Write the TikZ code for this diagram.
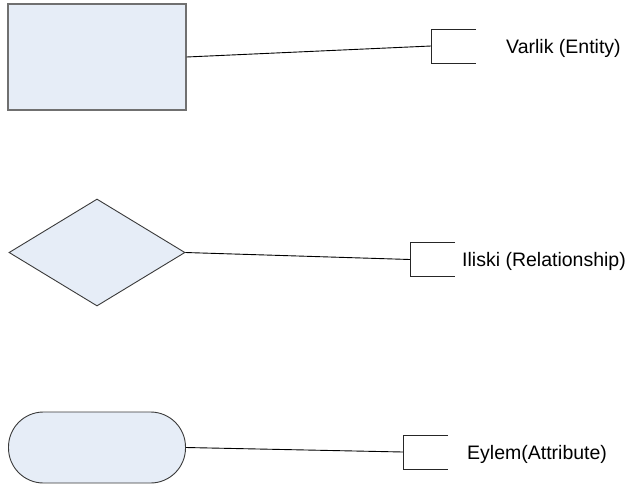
\documentclass[tikz,border=0pt]{standalone}
\usepackage{fontspec}
\setmainfont{Liberation Sans}
\usetikzlibrary{shapes.geometric}
\definecolor{shapefill}{HTML}{E6EDF7}
\definecolor{rectborder}{HTML}{707070}
\definecolor{shapeborder}{HTML}{3A3A3A}
\tikzset{
  entitybox/.style={draw=rectborder, fill=shapefill, line width=1.1pt, minimum width=178pt, minimum height=106pt, inner sep=0pt},
  relbox/.style={diamond, draw=shapeborder, fill=shapefill, line width=0.9pt, minimum width=176pt, minimum height=107pt, inner sep=0pt},
  attrbox/.style={draw=shapeborder, fill=shapefill, line width=0.9pt, rounded corners=35pt, minimum width=177pt, minimum height=71pt, inner sep=0pt},
  conn/.style={draw=black, line width=0.9pt},
  brk/.style={draw=black!85, line width=1pt},
  lbl/.style={anchor=base west, inner sep=0pt, font=\fontsize{19.5}{23}\selectfont}
}
\begin{document}
\begin{tikzpicture}[x=1pt, y=-1pt]
\useasboundingbox (0,0) rectangle (631,488);
% shapes
\node[entitybox] (ent) at (97,57) {};
\node[relbox] (rel) at (97,252.5) {};
\node[attrbox] (att) at (97,447.5) {};
% bracket tips
\coordinate (b1) at (431,46);
\coordinate (b2) at (410,259.5);
\coordinate (b3) at (403,452);
% brackets
\draw[brk] ([shift={(45,-17)}]b1) -- ([shift={(0,-17)}]b1) -- ([shift={(0,17)}]b1) -- ([shift={(45,17)}]b1);
\draw[brk] ([shift={(45,-17)}]b2) -- ([shift={(0,-17)}]b2) -- ([shift={(0,17)}]b2) -- ([shift={(45,17)}]b2);
\draw[brk] ([shift={(45,-17)}]b3) -- ([shift={(0,-17)}]b3) -- ([shift={(0,17)}]b3) -- ([shift={(45,17)}]b3);
% connectors
\draw[conn] (ent.east) -- (b1);
\draw[conn] (rel.east) -- (b2);
\draw[conn] (att.east) -- (b3);
% labels
\node[lbl] (l1) at (506,53) {Varlik (Entity)};
\node[lbl] (l2) at (462,266.5) {Iliski (Relationship)};
\node[lbl] (l3) at (467,459) {Eylem(Attribute)};
\end{tikzpicture}
\end{document}
